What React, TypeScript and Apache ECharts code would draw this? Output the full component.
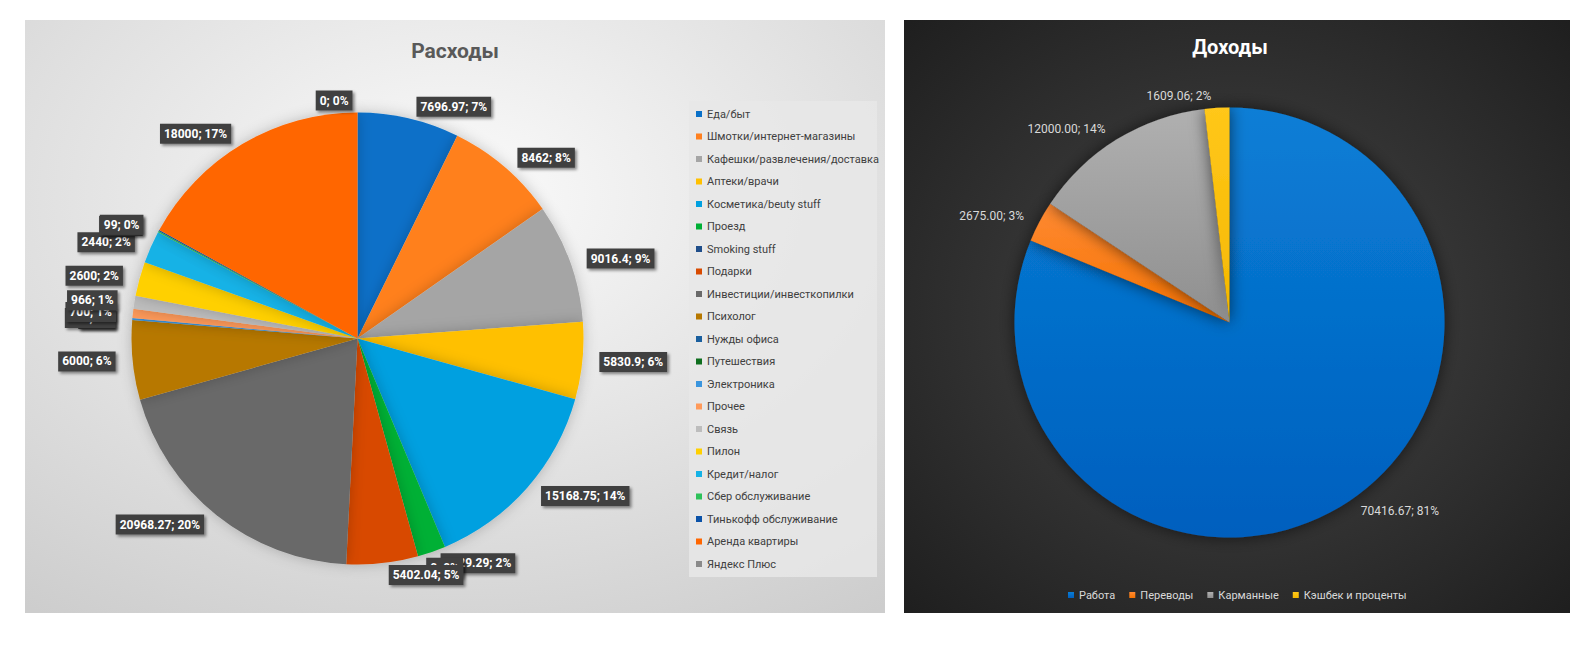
import React, { useEffect, useRef } from 'react';
import * as echarts from 'echarts';

const expenseTitle = 'Расходы';
const incomeTitle = 'Доходы';

const expenseCategories = [
  'Еда/быт',
  'Шмотки/интернет-магазины',
  'Кафешки/развлечения/доставка',
  'Аптеки/врачи',
  'Косметика/beuty stuff',
  'Проезд',
  'Smoking stuff',
  'Подарки',
  'Инвестиции/инвесткопилки',
  'Психолог',
  'Нужды офиса',
  'Путешествия',
  'Электроника',
  'Прочее',
  'Связь',
  'Пилон',
  'Кредит/налог',
  'Сбер обслуживание',
  'Тинькофф обслуживание',
  'Аренда квартиры',
  'Яндекс Плюс',
];
const expenseValues = [
  7696.97, 8462, 9016.4, 5830.9, 15168.75, 2129.29, 0, 5402.04, 20968.27, 6000,
  0, 0, 150, 700, 966, 2600, 2440, 99, 99, 18000, 0,
];
const expenseColors = [
  '#0a70c8', '#ff801f', '#a5a5a5', '#ffc000', '#00a0e0', '#00b035', '#1f4e8a',
  '#d84a00', '#696969', '#b77800', '#1a5f9e', '#0e6e1e', '#3a95de', '#ff9a5a',
  '#bdbdbd', '#ffd000', '#14b2e6', '#2ec25a', '#0b52a8', '#ff6600', '#8a8a8a',
];

const incomeCategories = ['Работа', 'Переводы', 'Карманные', 'Кэшбек и проценты'];
const incomeValues = [70416.67, 2675.0, 12000.0, 1609.06];
const incomeColors = [
  ['#0a7ed6', '#005fbe'],
  ['#ff8a33', '#f57200'],
  ['#b0b0b0', '#8f8f8f'],
  ['#ffc71a', '#f5b800'],
];

export default function App() {
  const ref = useRef<HTMLDivElement>(null);
  useEffect(() => {
    const chart = echarts.init(ref.current as HTMLDivElement, null, { renderer: 'svg' });
    const expTotal = expenseValues.reduce((a, b) => a + b, 0);
    const incTotal = incomeValues.reduce((a, b) => a + b, 0);
    const font = 'Roboto, "Noto Sans", sans-serif';
    chart.setOption({
      animation: false,
      textStyle: { fontFamily: font },
      graphic: [
        {
          type: 'rect',
          z: -10,
          silent: true,
          shape: { x: 25, y: 20, width: 860, height: 593 },
          style: {
            fill: new echarts.graphic.RadialGradient(0.5, 0.3, 0.85, [
              { offset: 0, color: '#fbfbfb' },
              { offset: 1, color: '#cdcdcd' },
            ]),
          },
        },
        {
          type: 'rect',
          z: -10,
          silent: true,
          shape: { x: 904, y: 20, width: 666, height: 593 },
          style: {
            fill: new echarts.graphic.RadialGradient(0.5, 0.5, 0.75, [
              { offset: 0, color: '#474747' },
              { offset: 1, color: '#1c1c1c' },
            ]),
          },
        },
        {
          type: 'rect',
          z: -9,
          silent: true,
          shape: { x: 689, y: 101, width: 188, height: 476 },
          style: { fill: 'rgba(232,232,232,0.85)' },
        },
        {
          type: 'text',
          x: 455,
          y: 51,
          style: {
            text: expenseTitle,
            align: 'center',
            verticalAlign: 'middle',
            fontSize: 21,
            fontWeight: 'bold',
            fontFamily: font,
            fill: '#595959',
          },
        },
        {
          type: 'text',
          x: 1230,
          y: 47,
          style: {
            text: incomeTitle,
            align: 'center',
            verticalAlign: 'middle',
            fontSize: 20,
            fontWeight: 'bold',
            fontFamily: font,
            fill: '#ffffff',
          },
        },
      ],
      legend: [
        {
          orient: 'vertical',
          left: 696,
          top: 107,
          padding: 0,
          itemWidth: 6,
          itemHeight: 6,
          itemGap: 8.5,
          icon: 'rect',
          data: expenseCategories,
          textStyle: { fontSize: 11, color: '#404040', lineHeight: 14, fontFamily: font },
        },
        {
          orient: 'horizontal',
          left: 1068,
          top: 588,
          padding: 0,
          itemWidth: 6,
          itemHeight: 6,
          itemGap: 14,
          icon: 'rect',
          data: incomeCategories,
          textStyle: { fontSize: 11, color: '#d9d9d9', lineHeight: 14, fontFamily: font },
        },
      ],
      series: [
        {
          type: 'pie',
          center: [357.5, 338.5],
          radius: 226,
          startAngle: 90,
          clockwise: true,
          avoidLabelOverlap: false,
          labelLayout: { hideOverlap: false },
          data: expenseCategories.map((n, i) => ({
            name: n,
            value: expenseValues[i],
            itemStyle: { color: expenseColors[i] },
          })),
          itemStyle: {
            borderWidth: 0,
            shadowBlur: 14,
            shadowColor: 'rgba(0,0,0,0.22)',
          },
          label: {
            show: true,
            position: 'outside',
            formatter: (p: any) => `${p.value}; ${Math.round((p.value / expTotal) * 100)}%`,
            backgroundColor: '#404040',
            color: '#ffffff',
            fontWeight: 'bold',
            fontSize: 12,
            fontFamily: font,
            padding: [4, 4, 4, 4],
            shadowBlur: 3,
            shadowColor: 'rgba(0,0,0,0.45)',
            shadowOffsetX: 2,
            shadowOffsetY: 2,
          },
          labelLine: { show: false, length: 12, length2: 0 },
          emphasis: { disabled: true },
        },
        {
          type: 'pie',
          center: [1229.5, 322.5],
          radius: 215,
          startAngle: 90,
          clockwise: true,
          labelLayout: { hideOverlap: false },
          data: incomeCategories.map((n, i) => ({
            name: n,
            value: incomeValues[i],
            itemStyle: {
              color: new echarts.graphic.LinearGradient(0, 0, 0, 1, [
                { offset: 0, color: incomeColors[i][0] },
                { offset: 1, color: incomeColors[i][1] },
              ]),
            },
          })),
          itemStyle: {
            borderWidth: 0,
            shadowBlur: 16,
            shadowColor: 'rgba(0,0,0,0.6)',
          },
          label: {
            show: true,
            position: 'outside',
            formatter: (p: any) =>
              `${Number(p.value).toFixed(2)}; ${Math.round((p.value / incTotal) * 100)}%`,
            color: '#d9d9d9',
            fontSize: 12,
            fontFamily: font,
          },
          labelLine: { show: false, length: 12, length2: 0 },
          emphasis: { disabled: true },
        },
      ],
    });
    return () => chart.dispose();
  }, []);
  return (
    <div
      ref={ref}
      style={{ position: 'fixed', left: 0, top: 0, width: 1581, height: 648, background: '#ffffff' }}
    />
  );
}
